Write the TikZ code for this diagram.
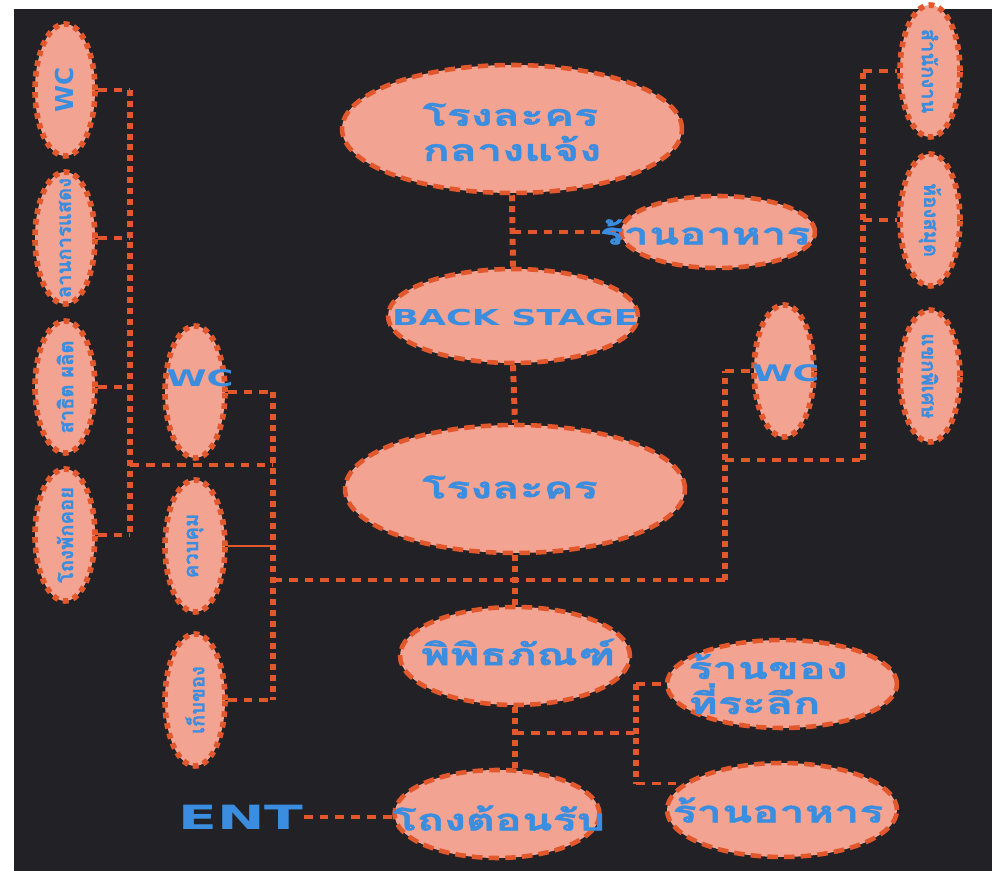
\documentclass[tikz,border=0pt]{standalone}
\usepackage{fontspec}
\usepackage{xcolor}
\usepackage{tikz}
\usetikzlibrary{shapes.geometric,positioning,calc}
\newfontfamily\thaifont[Script=Thai,FakeStretch=1.5,FakeBold=1.5]{Loma}
\newfontfamily\thainarrow[Script=Thai,FakeBold=1.2]{Loma}
\newfontfamily\widefont[FakeStretch=1.6]{DejaVu Sans}
\newfontfamily\plainfont{DejaVu Sans}
\newfontfamily\entfont[FakeStretch=1.7]{DejaVu Sans}
\definecolor{mpbg}{HTML}{222226}
\definecolor{mpfill}{HTML}{F3A391}
\definecolor{mpedge}{HTML}{E2582C}
\definecolor{mptext}{HTML}{3B8EDF}
\pgfdeclarelayer{mpback}
\pgfdeclarelayer{mplinks}
\pgfsetlayers{mpback,mplinks,main}
\tikzset{
  mproom/.style={
    ellipse, draw=mpedge, fill=mpfill, line width=2.6pt,
    dash pattern=on 6pt off 3.5pt, inner sep=0pt
  },
  mptall/.style={mproom, minimum width=1.2cm, minimum height=2.64cm,
    line width=3.2pt, dash pattern=on 3.2pt off 2.8pt},
  mpthai/.style={font=\thaifont\bfseries\fontsize{17}{20}\selectfont,
    text=mptext, align=left, inner sep=0pt},
  mpthaiv/.style={font=\thainarrow\bfseries\fontsize{11.5}{14}\selectfont,
    text=mptext, inner sep=0pt, rotate=90},
  mpthair/.style={mpthaiv, rotate=-180},
  mpwide/.style={font=\widefont\bfseries\fontsize{13}{15}\selectfont,
    text=mptext, inner sep=0pt},
  mpwcv/.style={font=\plainfont\bfseries\fontsize{14}{16}\selectfont,
    text=mptext, inner sep=0pt, rotate=90},
  mpbig/.style={font=\widefont\bfseries\fontsize{12.5}{15}\selectfont,
    text=mptext, inner sep=0pt},
  mpent/.style={font=\entfont\bfseries\fontsize{19}{22}\selectfont,
    text=mptext, inner sep=0pt},
  mplink/.style={draw=mpedge, line width=2.2pt, dash pattern=on 5pt off 4pt},
  mplinkv/.style={draw=mpedge, line width=3.4pt, dash pattern=on 3.4pt off 2.8pt}
}

\begin{document}
\begin{tikzpicture}[x=0.02cm,y=-0.02cm]
  \useasboundingbox (0,0) rectangle (992,871);
  \begin{pgfonlayer}{mpback}
    \fill[white] (0,0) rectangle (992,871);
    \fill[mpbg] (14,9) rectangle (992,871);
  \end{pgfonlayer}

  % left column
  \node[mptall] (wcL) at (65,90) {};
  \node[mpwcv] (wcL-t) at (wcL) {WC};
  \node[mptall] (stageL) at (65,238) {};
  \node[mpthaiv] (stageL-t) at (stageL) {ลานการแสดง};
  \node[mptall] (demoL) at (65,387) {};
  \node[mpthaiv] (demoL-t) at (demoL) {สาธิต ผลิต};
  \node[mptall] (lobbyL) at (65,535) {};
  \node[mpthaiv] (lobbyL-t) at (lobbyL) {โถงพักคอย};

  % second column
  \node[mptall] (wcM) at (195,392) {};
  \node[mpwide] (wcM-t) at (200,378) {WC};
  \node[mptall] (ctrlM) at (195,546) {};
  \node[mpthaiv] (ctrlM-t) at (ctrlM) {ควบคุม};
  \node[mptall] (storeM) at (195,700) {};
  \node[mpthaiv] (storeM-t) at (storeM) {เก็บของ};

  % centre
  \node[mproom, minimum width=6.8cm, minimum height=2.56cm] (outdoor) at (512,129) {};
  \node[mpthai] (outdoor-t) at (512,132) {โรงละคร\\กลางแจ้ง};
  \node[mproom, minimum width=3.88cm, minimum height=1.44cm] (foodU) at (718,232) {};
  \node[mpthai] (foodU-t) at (705,232) {ร้านอาหาร};
  \node[mproom, minimum width=5cm, minimum height=1.88cm] (backstage) at (513,316) {};
  \node[mpbig] (backstage-t) at (515,318) {BACK STAGE};
  \node[mproom, minimum width=6.8cm, minimum height=2.56cm] (theatre) at (515,489) {};
  \node[mpthai] (theatre-t) at (510,487) {โรงละคร};
  \node[mproom, minimum width=4.6cm, minimum height=1.96cm] (museum) at (515,656) {};
  \node[mpthai] (museum-t) at (518,652) {พิพิธภัณฑ์};
  \node[mproom, minimum width=4.1cm, minimum height=1.76cm] (hall) at (497,814) {};
  \node[mpthai] (hall-t) at (499,818) {โถงต้อนรับ};
  \node[mproom, minimum width=4.6cm, minimum height=1.76cm] (gift) at (782,684) {};
  \node[mpthai] (gift-t) at (768,684) {ร้านของ\\ที่ระลึก};
  \node[mproom, minimum width=4.6cm, minimum height=1.88cm] (foodL) at (782,810) {};
  \node[mpthai] (foodL-t) at (778,810) {ร้านอาหาร};
  \node[mpent] (ent) at (241,817) {ENT};

  % right column
  \node[mptall] (wcR) at (784,371) {};
  \node[mpwide] (wcR-t) at (786,373) {WC};
  \node[mptall] (office) at (930,71) {};
  \node[mpthair] (office-t) at (office) {สำนักงาน};
  \node[mptall] (library) at (930,220) {};
  \node[mpthair] (library-t) at (library) {ห้องสมุด};
  \node[mptall] (vip) at (930,376) {};
  \node[mpthair] (vip-t) at (vip) {แขกพิเศษ};

  \coordinate (busL) at (130,465);
  \coordinate (busM) at (273,580);
  \coordinate (jR) at (725,460);
  \coordinate (busR) at (863,460);
  \coordinate (jG) at (515,733);
  \coordinate (busG) at (636,733);

  \begin{pgfonlayer}{mplinks}
    % left groups
    \draw[mplinkv] (wcL.east -| busL) -- (lobbyL.east -| busL);
    \foreach \n in {wcL,stageL,demoL,lobbyL}
      \draw[mplink] (\n.east) -- (\n.east -| busL);
    \draw[mplink] (busL) -- (busL -| busM);
    \draw[mplinkv] (wcM.east -| busM) -- (storeM.east -| busM);
    \draw[mplink] (wcM.east) -- (wcM.east -| busM);
    \draw[draw=mpedge, line width=1pt] (ctrlM.east) -- (ctrlM.east -| busM);
    \draw[mplink] (storeM.east) -- (storeM.east -| busM);
    \draw[mplink] (busM) -- (jR |- busM);
    % right groups
    \draw[mplinkv] (jR |- busM) -- (wcR.west -| jR);
    \draw[mplink] (wcR.west -| jR) -- (wcR.west);
    \draw[mplink] (jR) -- (busR);
    \draw[mplinkv] (busR) -- (office.west -| busR);
    \draw[mplink] (office.west -| busR) -- (office.west);
    \draw[mplink] (library.west -| busR) -- (library.west);
    % centre spine
    \draw[mplinkv] (outdoor.south) -- (backstage.north);
    \draw[mplink] (outdoor.south |- foodU.west) -- (foodU.west);
    \draw[mplinkv] (backstage.south) -- (theatre.north);
    \draw[mplinkv] (theatre.south) -- (museum.north);
    \draw[mplinkv] (museum.south) -- (museum.south |- hall.north);
    \draw[mplink] (jG) -- (busG);
    \draw[mplinkv] (gift.west -| busG) -- (foodL.165 -| busG);
    \draw[mplink] (gift.west -| busG) -- (gift.west);
    \draw[mplink] (foodL.165 -| busG) -- (foodL.165);
    \draw[mplink] (ent.east) -- (ent.east -| hall.west);
  \end{pgfonlayer}
\end{tikzpicture}
\end{document}
